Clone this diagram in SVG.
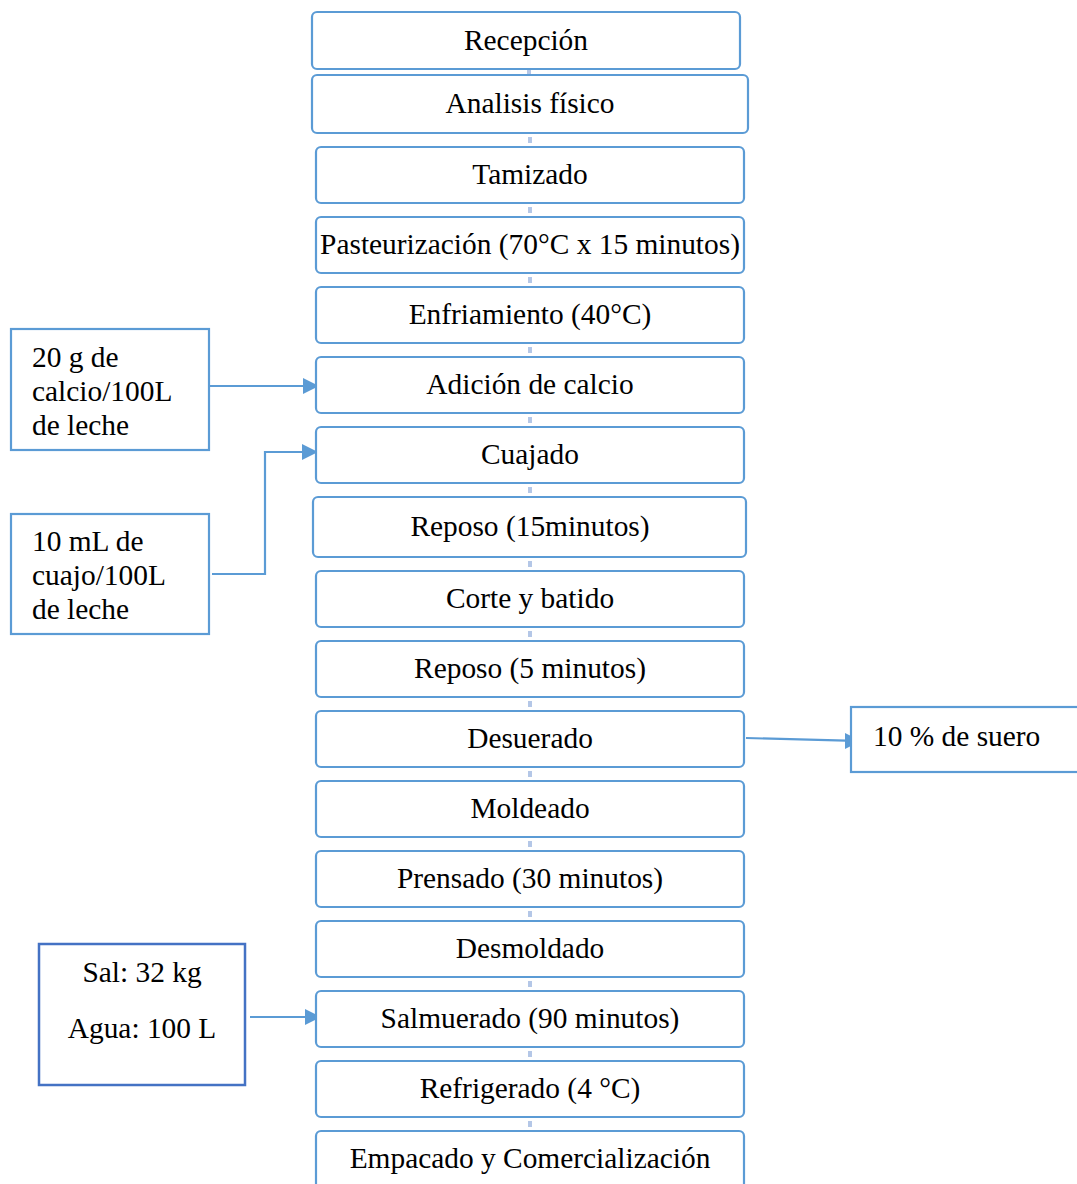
<svg xmlns="http://www.w3.org/2000/svg" width="1077" height="1184" viewBox="0 0 1077 1184">
<defs>
<style>
.step{fill:#fff;stroke:#5B9BD5;stroke-width:2.2}
.side{fill:#fff;stroke:#5B9BD5;stroke-width:2.2}
.sal{fill:#fff;stroke:#4472C4;stroke-width:2.5}
text{font-family:"Liberation Serif","Times New Roman",serif;font-size:29.4px;fill:#000}
.c{text-anchor:middle}
.arr{fill:none;stroke:#5B9BD5;stroke-width:2.2}
.head{fill:#5B9BD5}
.dot{stroke:#B4C7E7;stroke-width:4}
</style>
</defs>
<rect width="1077" height="1184" fill="#fff"/>
<g id="connectors">
<line class="dot" x1="529" y1="70" x2="529" y2="74"/>
<line class="dot" x1="530" y1="137" x2="530" y2="143"/>
<line class="dot" x1="530" y1="207" x2="530" y2="213"/>
<line class="dot" x1="530" y1="277" x2="530" y2="283"/>
<line class="dot" x1="530" y1="347" x2="530" y2="353"/>
<line class="dot" x1="530" y1="417" x2="530" y2="423"/>
<line class="dot" x1="530" y1="487" x2="530" y2="493"/>
<line class="dot" x1="530" y1="561" x2="530" y2="567"/>
<line class="dot" x1="530" y1="631" x2="530" y2="637"/>
<line class="dot" x1="530" y1="701" x2="530" y2="707"/>
<line class="dot" x1="530" y1="771" x2="530" y2="777"/>
<line class="dot" x1="530" y1="841" x2="530" y2="847"/>
<line class="dot" x1="530" y1="911" x2="530" y2="917"/>
<line class="dot" x1="530" y1="981" x2="530" y2="987"/>
<line class="dot" x1="530" y1="1051" x2="530" y2="1057"/>
<line class="dot" x1="530" y1="1121" x2="530" y2="1127"/>
<path class="arr" d="M209,386 L304,386"/>
<polygon class="head" points="303,378 319,386 303,394"/>
<path class="arr" d="M212,574 L265,574 L265,452 L304,452"/>
<polygon class="head" points="302,444 318,452 302,460"/>
<path class="arr" d="M746,738 L846,740.7"/>
<polygon class="head" points="845,733 861,741 845,749"/>
<path class="arr" d="M250,1017 L306,1017"/>
<polygon class="head" points="305,1009 321,1017 305,1025"/>
</g>
<g id="n1"><rect class="step" x="312" y="12" width="428" height="57" rx="5"/><text class="c" x="526" y="50">Recepción</text></g>
<g id="n2"><rect class="step" x="312" y="75" width="436" height="58" rx="5"/><text class="c" x="530" y="113">Analisis físico</text></g>
<g id="n3"><rect class="step" x="316" y="147" width="428" height="56" rx="5"/><text class="c" x="530" y="184">Tamizado</text></g>
<g id="n4"><rect class="step" x="316" y="217" width="428" height="56" rx="5"/><text class="c" x="530" y="254">Pasteurización (70°C x 15 minutos)</text></g>
<g id="n5"><rect class="step" x="316" y="287" width="428" height="56" rx="5"/><text class="c" x="530" y="324">Enfriamiento (40°C)</text></g>
<g id="n6"><rect class="step" x="316" y="357" width="428" height="56" rx="5"/><text class="c" x="530" y="394">Adición de calcio</text></g>
<g id="n7"><rect class="step" x="316" y="427" width="428" height="56" rx="5"/><text class="c" x="530" y="464">Cuajado</text></g>
<g id="n8"><rect class="step" x="313" y="497" width="433" height="60" rx="5"/><text class="c" x="530" y="536">Reposo (15minutos)</text></g>
<g id="n9"><rect class="step" x="316" y="571" width="428" height="56" rx="5"/><text class="c" x="530" y="608">Corte y batido</text></g>
<g id="n10"><rect class="step" x="316" y="641" width="428" height="56" rx="5"/><text class="c" x="530" y="678">Reposo (5 minutos)</text></g>
<g id="n11"><rect class="step" x="316" y="711" width="428" height="56" rx="5"/><text class="c" x="530" y="748">Desuerado</text></g>
<g id="n12"><rect class="step" x="316" y="781" width="428" height="56" rx="5"/><text class="c" x="530" y="818">Moldeado</text></g>
<g id="n13"><rect class="step" x="316" y="851" width="428" height="56" rx="5"/><text class="c" x="530" y="888">Prensado (30 minutos)</text></g>
<g id="n14"><rect class="step" x="316" y="921" width="428" height="56" rx="5"/><text class="c" x="530" y="958">Desmoldado</text></g>
<g id="n15"><rect class="step" x="316" y="991" width="428" height="56" rx="5"/><text class="c" x="530" y="1028">Salmuerado (90 minutos)</text></g>
<g id="n16"><rect class="step" x="316" y="1061" width="428" height="56" rx="5"/><text class="c" x="530" y="1098">Refrigerado (4 °C)</text></g>
<g id="n17"><rect class="step" x="316" y="1131" width="428" height="64" rx="5"/><text class="c" x="530" y="1168">Empacado y Comercialización</text></g>
<g id="calcio"><rect class="side" x="11" y="329" width="198" height="121"/><text x="32" y="367">20 g de</text><text x="32" y="401">calcio/100L</text><text x="32" y="435">de leche</text></g>
<g id="cuajo"><rect class="side" x="11" y="514" width="198" height="120"/><text x="32" y="551">10 mL de</text><text x="32" y="585">cuajo/100L</text><text x="32" y="619">de leche</text></g>
<g id="suero"><rect class="side" x="851" y="707" width="240" height="65"/><text x="873" y="746">10 % de suero</text></g>
<g id="salmuera"><rect class="sal" x="39" y="944" width="206" height="141"/><text class="c" x="142" y="982">Sal: 32 kg</text><text class="c" x="142" y="1038">Agua: 100 L</text></g>
</svg>
